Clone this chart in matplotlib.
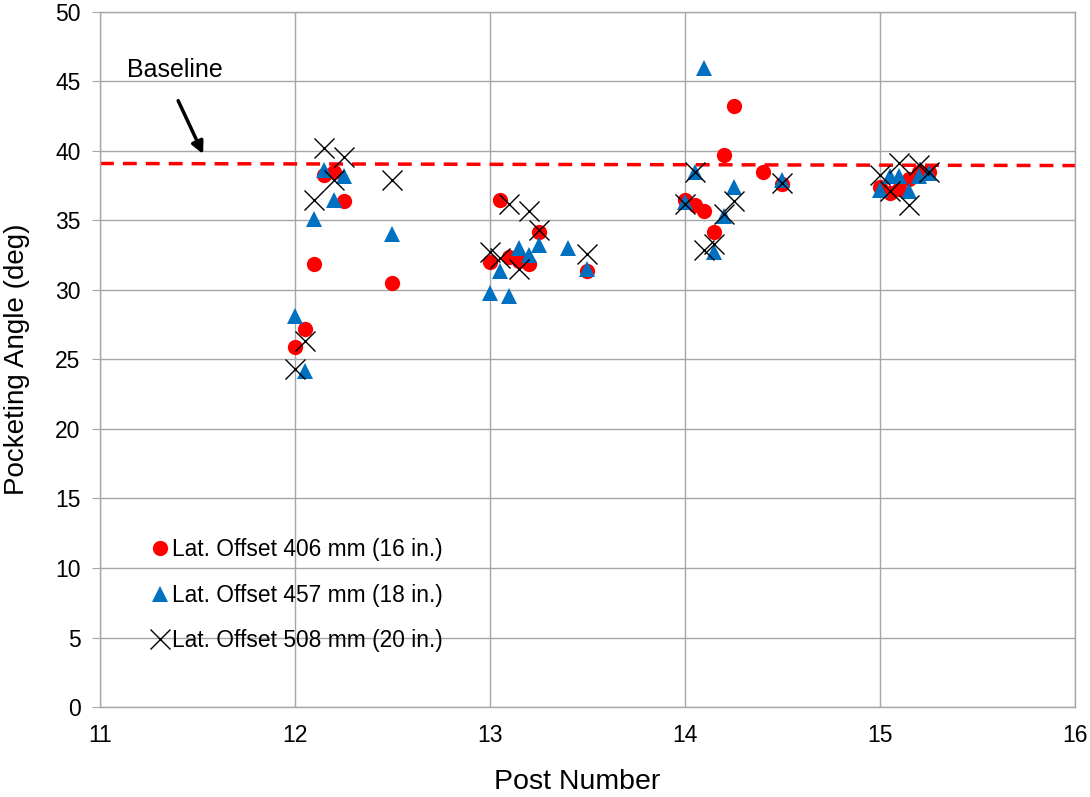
import matplotlib
matplotlib.use("Agg")
import matplotlib.pyplot as plt

plt.rcParams['font.family'] = ['Liberation Sans', 'DejaVu Sans']

# post number positions and pocketing angles
x_406 = [12.0, 12.05, 12.1, 12.15, 12.2, 12.25, 12.5,
         13.0, 13.05, 13.1, 13.15, 13.2, 13.25, 13.5,
         14.0, 14.05, 14.1, 14.15, 14.2, 14.25, 14.4, 14.5,
         15.0, 15.05, 15.1, 15.15, 15.2, 15.25]
y_406 = [25.9, 27.2, 31.9, 38.3, 38.5, 36.4, 30.5,
         32.0, 36.5, 32.4, 32.1, 31.9, 34.2, 31.4,
         36.5, 36.1, 35.7, 34.2, 39.7, 43.2, 38.5, 37.6,
         37.4, 37.0, 37.3, 38.0, 38.5, 38.5]

x_457 = [12.0, 12.05, 12.1, 12.15, 12.2, 12.25, 12.5,
         13.0, 13.05, 13.1, 13.15, 13.2, 13.25, 13.4, 13.5,
         14.0, 14.05, 14.1, 14.15, 14.2, 14.25, 14.5,
         15.0, 15.05, 15.1, 15.15, 15.2, 15.25]
y_457 = [28.1, 24.2, 35.1, 38.6, 36.5, 38.2, 34.0,
         29.8, 31.4, 29.6, 33.0, 32.5, 33.2, 33.0, 31.5,
         36.3, 38.5, 46.0, 32.7, 35.3, 37.4, 37.9,
         37.2, 38.2, 38.2, 37.1, 38.2, 38.4]

x_508 = [12.0, 12.05, 12.1, 12.15, 12.2, 12.25, 12.5,
         13.0, 13.05, 13.1, 13.15, 13.2, 13.25, 13.5,
         14.0, 14.05, 14.1, 14.15, 14.2, 14.25, 14.5,
         15.0, 15.05, 15.1, 15.15, 15.2, 15.25]
y_508 = [24.3, 26.3, 36.5, 40.2, 37.9, 39.6, 37.9,
         32.7, 32.3, 36.2, 31.5, 35.7, 34.3, 32.6,
         36.2, 38.5, 32.9, 33.3, 35.5, 36.4, 37.7,
         38.3, 37.1, 39.1, 36.1, 39.0, 38.5]

baseline_x = [11, 16]
baseline_y = [39.1, 38.95]

fig = plt.figure(figsize=(10.9, 7.97), dpi=100)
ax = fig.add_axes([0.0917, 0.1129, 0.8945, 0.8721])

grid_col = '#A6A6A6'
ax.plot(baseline_x, baseline_y, color='#FF0000', linestyle=(0, (4, 2.6)), linewidth=2.5, zorder=2)

ax.plot(x_406, y_406, 'o', color='#FF0000', markersize=11, markeredgewidth=0,
        label='Lat. Offset 406 mm (16 in.)', zorder=3)
ax.plot(x_457, y_457, '^', color='#0070C0', markersize=12, markeredgewidth=0,
        label='Lat. Offset 457 mm (18 in.)', zorder=4)
ax.plot(x_508, y_508, 'x', color='black', markersize=15, markeredgewidth=1.0,
        label='Lat. Offset 508 mm (20 in.)', zorder=5)

ax.set_xlim(11, 16)
ax.set_ylim(0, 50)
ax.set_xticks(range(11, 17))
ax.set_yticks(range(0, 51, 5))
ax.grid(True, color=grid_col, linewidth=1.0)
ax.set_axisbelow(True)
for s in ax.spines.values():
    s.set_color(grid_col)
    s.set_linewidth(1.0)
ax.tick_params(axis='y', length=6, color=grid_col, labelsize=16.5, pad=8)
ax.tick_params(axis='x', length=0, labelsize=16.5, pad=12)

ax.set_xlabel('Post Number', fontsize=20.5, labelpad=16)
ax.xaxis.label.set_x(0.489)
ax.set_ylabel('Pocketing Angle (deg)', fontsize=20, labelpad=18)

# baseline annotation
ax.annotate('', xy=(11.535, 39.6), xytext=(11.395, 43.8),
            arrowprops=dict(arrowstyle='-|>', color='black', lw=2.5, mutation_scale=18))
ax.text(11.14, 45.8, 'Baseline', fontsize=18, va='center', ha='left')

leg = ax.legend(loc='center left', bbox_to_anchor=(0.045, 0.161), frameon=False,
                fontsize=16.4, labelspacing=1.0, handlelength=0.6, handletextpad=0.23,
                borderaxespad=0)

fig.savefig('out.png', dpi=100)
